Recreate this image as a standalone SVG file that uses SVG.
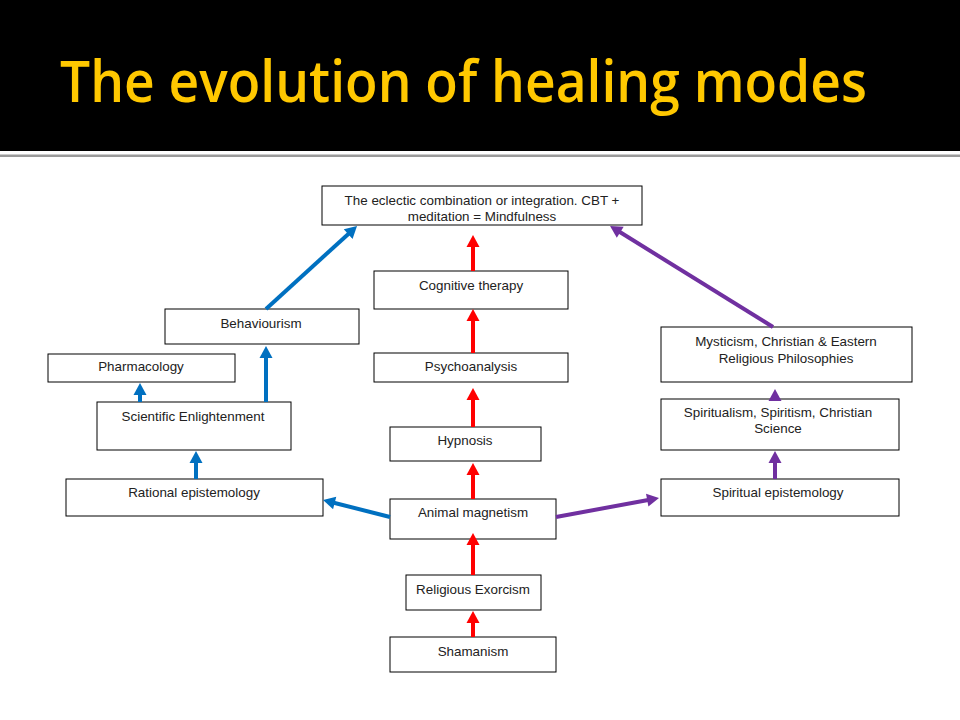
<svg xmlns="http://www.w3.org/2000/svg" width="960" height="720" viewBox="0 0 960 720">
<defs>
<style>
.box{fill:#fff;stroke:#000;stroke-width:1}
.t{font-family:"Liberation Sans",Arial,sans-serif;font-size:13.4px;fill:#222;text-anchor:middle}
.red{stroke:#FF0000;stroke-width:4;fill:none}
.blue{stroke:#0070C0;stroke-width:4;fill:none}
.purple{stroke:#7030A0;stroke-width:4;fill:none}
</style>
<marker id="ar" markerUnits="userSpaceOnUse" markerWidth="14" markerHeight="14" viewBox="0 -7 13 14" refX="1" refY="0" orient="auto"><path d="M0,-6.5 L12,0 L0,6.5 z" fill="#FF0000"/></marker>
<marker id="ab" markerUnits="userSpaceOnUse" markerWidth="14" markerHeight="14" viewBox="0 -7 13 14" refX="1" refY="0" orient="auto"><path d="M0,-6.5 L12,0 L0,6.5 z" fill="#0070C0"/></marker>
<marker id="ap" markerUnits="userSpaceOnUse" markerWidth="14" markerHeight="14" viewBox="0 -7 13 14" refX="1" refY="0" orient="auto"><path d="M0,-6.5 L12,0 L0,6.5 z" fill="#7030A0"/></marker>
</defs>
<rect x="0" y="0" width="960" height="720" fill="#fff"/>
<g id="header">
<rect x="0" y="0" width="960" height="151" fill="#000"/>
<rect x="0" y="154.5" width="960" height="2.5" fill="#9a9a9a"/>
<text x="60" y="102" font-family="'Open Sans','Liberation Sans',sans-serif" font-weight="600" font-size="57" fill="#FFC800" textLength="807" lengthAdjust="spacingAndGlyphs">The evolution of healing modes</text>
</g>
<g id="eclectic"><rect class="box" x="322" y="186" width="320" height="39"/><text class="t" x="482" y="205">The eclectic combination or integration. CBT +</text><text class="t" x="482" y="221">meditation = Mindfulness</text></g>
<g id="cognitive"><rect class="box" x="374" y="271" width="194" height="38"/><text class="t" x="471" y="290">Cognitive therapy</text></g>
<g id="psychoanalysis"><rect class="box" x="374" y="353" width="194" height="29"/><text class="t" x="471" y="371">Psychoanalysis</text></g>
<g id="hypnosis"><rect class="box" x="390" y="427" width="151" height="34"/><text class="t" x="465" y="445">Hypnosis</text></g>
<g id="animal"><rect class="box" x="390" y="499" width="166" height="40"/><text class="t" x="473" y="517">Animal magnetism</text></g>
<g id="exorcism"><rect class="box" x="406" y="575" width="135" height="35"/><text class="t" x="473" y="594">Religious Exorcism</text></g>
<g id="shamanism"><rect class="box" x="390" y="637" width="166" height="35"/><text class="t" x="473" y="656">Shamanism</text></g>
<g id="behaviourism"><rect class="box" x="165" y="309" width="194" height="35"/><text class="t" x="261" y="328">Behaviourism</text></g>
<g id="pharmacology"><rect class="box" x="48" y="354" width="187" height="28"/><text class="t" x="141" y="371">Pharmacology</text></g>
<g id="scientific"><rect class="box" x="97" y="402" width="194" height="48"/><text class="t" x="193" y="421">Scientific Enlightenment</text></g>
<g id="rational"><rect class="box" x="66" y="479" width="257" height="37"/><text class="t" x="194" y="497">Rational epistemology</text></g>
<g id="mysticism"><rect class="box" x="661" y="327" width="251" height="55"/><text class="t" x="786" y="346">Mysticism, Christian &amp; Eastern</text><text class="t" x="786" y="363">Religious Philosophies</text></g>
<g id="spiritualism"><rect class="box" x="661" y="399" width="238" height="51"/><text class="t" x="778" y="417">Spiritualism, Spiritism, Christian</text><text class="t" x="778" y="433">Science</text></g>
<g id="spiritual"><rect class="box" x="661" y="479" width="238" height="37"/><text class="t" x="778" y="497">Spiritual epistemology</text></g>
<g id="connectors">
<line class="red" x1="473" y1="271" x2="473" y2="246" marker-end="url(#ar)"/>
<line class="red" x1="473" y1="353" x2="473" y2="320" marker-end="url(#ar)"/>
<line class="red" x1="473" y1="427" x2="473" y2="399" marker-end="url(#ar)"/>
<line class="red" x1="473" y1="499" x2="473" y2="474" marker-end="url(#ar)"/>
<line class="red" x1="473" y1="575" x2="473" y2="544" marker-end="url(#ar)"/>
<line class="red" x1="473" y1="637" x2="473" y2="622" marker-end="url(#ar)"/>
<line class="blue" x1="196" y1="479" x2="196" y2="462" marker-end="url(#ab)"/>
<line class="blue" x1="140" y1="402" x2="140" y2="394" marker-end="url(#ab)"/>
<line class="blue" x1="266" y1="402" x2="266" y2="357" marker-end="url(#ab)"/>
<line class="blue" x1="266" y1="309" x2="348.9" y2="233.4" marker-end="url(#ab)"/>
<line class="blue" x1="390" y1="517" x2="333.7" y2="502.7" marker-end="url(#ab)"/>
<line class="purple" x1="556" y1="517" x2="648.2" y2="500" marker-end="url(#ap)"/>
<line class="purple" x1="775" y1="479" x2="775" y2="462" marker-end="url(#ap)"/>
<line class="purple" x1="775" y1="401" x2="775" y2="400" marker-end="url(#ap)"/>
<line class="purple" x1="773" y1="327" x2="619.4" y2="231.8" marker-end="url(#ap)"/>
</g>
</svg>
